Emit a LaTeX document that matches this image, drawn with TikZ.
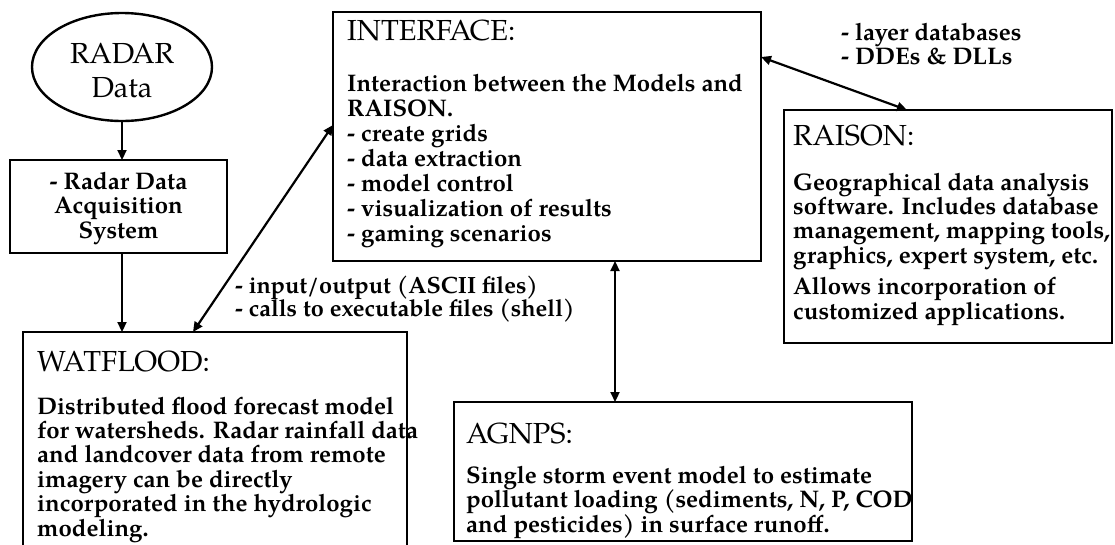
\documentclass[tikz,border=0pt]{standalone}
\usepackage{fontspec}
\setmainfont{texgyrepagella}[Extension=.otf,UprightFont=*-regular,BoldFont=*-bold,ItalicFont=*-italic,BoldItalicFont=*-bolditalic]
\usetikzlibrary{arrows.meta,calc,shapes.geometric}
\newcommand{\mlL}[1]{\begin{tabular}[t]{@{}l@{}}#1\end{tabular}}
\newcommand{\mlC}[1]{\begin{tabular}[t]{@{}c@{}}#1\end{tabular}}
\begin{document}
\begin{tikzpicture}[x=1pt,y=-1pt,
  box/.style={draw, line width=2.4pt, rectangle, inner sep=0pt, outer sep=0pt},
  head/.style={inner sep=0pt, anchor=base west, font=\fontsize{29}{30}\selectfont},
  body/.style={inner sep=0pt, anchor=base west, font=\bfseries\fontsize{24}{24}\selectfont},
  conn/.style={line width=2.2pt, -{Triangle[length=10pt,width=9pt]}},
  dconn/.style={line width=2.2pt, {Triangle[length=10pt,width=9pt]}-{Triangle[length=10pt,width=9pt]}},
]
\useasboundingbox (0,0) rectangle (1115,544);
\clip (0,0) rectangle (1115,544);

% shapes
\node[ellipse, draw, line width=2.4pt, minimum width=180pt, minimum height=108pt, inner sep=0pt, outer sep=0pt] (radar) at (122,67) {};
\node[box, minimum width=217pt, minimum height=93pt] (acq) at (118.5,206.5) {};
\node[box, minimum width=384pt, minimum height=228pt] (wat) at (215,446) {};
\node[box, minimum width=428pt, minimum height=249pt] (iface) at (547,136.5) {};
\node[box, minimum width=328pt, minimum height=233pt] (raison) at (948,226.5) {};
\node[box, minimum width=458pt, minimum height=139pt] (agnps) at (683,471.5) {};

% texts
\node[inner sep=0pt, anchor=base, font=\fontsize{29}{34}\selectfont] (radarT) at (122,63) {\mlC{RADAR\\Data}};
\node[inner sep=0pt, anchor=base, font=\bfseries\fontsize{24}{24.5}\selectfont] (acqT) at (118.5,189) {\mlC{- Radar Data\\Acquisition\\System}};

\node[head] (ifaceH) at (347,40) {INTERFACE:};
\node[body, font=\bfseries\fontsize{24}{25}\selectfont] (ifaceB) at (347,91) {\mlL{Interaction between the Models and\\RAISON.\\- create grids\\- data extraction\\- model control\\- visualization of results\\- gaming scenarios}};

\node[head] (watH) at (37,371) {WATFLOOD:};
\node[body] (watB) at (37,414) {\mlL{Distributed flood forecast model\\for watersheds. Radar rainfall data\\and landcover data from remote\\imagery can be directly\\incorporated in the hydrologic\\modeling.}};

\node[head] (agnpsH) at (466,443) {AGNPS:};
\node[body, font=\bfseries\fontsize{24}{23.5}\selectfont] (agnpsB) at (466,483) {\mlL{Single storm event model to estimate\\pollutant loading (sediments, N, P, COD\\and pesticides) in surface runoff.}};

\node[head] (raisonH) at (793,145) {RAISON:};
\node[body] (raisonB) at (793,190) {\mlL{Geographical data analysis\\software. Includes database\\management, mapping tools,\\graphics, expert system, etc.\\[7pt]Allows incorporation of\\customized applications.}};

\node[body, font=\bfseries\fontsize{23.5}{21}\selectfont] (ioL) at (235,293) {\mlL{- input/output (ASCII files)\\- calls to executable files (shell)}};
\node[body] (layerL) at (841,40) {\mlL{- layer databases\\- DDEs \& DLLs}};

% connectors
\draw[conn] (radar.south) -- (radar.south |- acq.north);
\draw[conn] (radar.south |- acq.south) -- (radar.south |- wat.north);
\coordinate (wtop) at ($(wat.north west)+(170,0)$);
\coordinate (ileft) at ($(iface.north west)+(0,113)$);
\draw[dconn] (wtop) -- (ileft);
\coordinate (ibot) at ($(iface.south west)+(282,0)$);
\draw[dconn] (ibot) -- (ibot |- agnps.north);
\coordinate (iright) at ($(iface.north east)+(0,45)$);
\coordinate (rtop) at ($(raison.north west)+(123,0)$);
\draw[dconn] (iright) -- (rtop);
\end{tikzpicture}
\end{document}
